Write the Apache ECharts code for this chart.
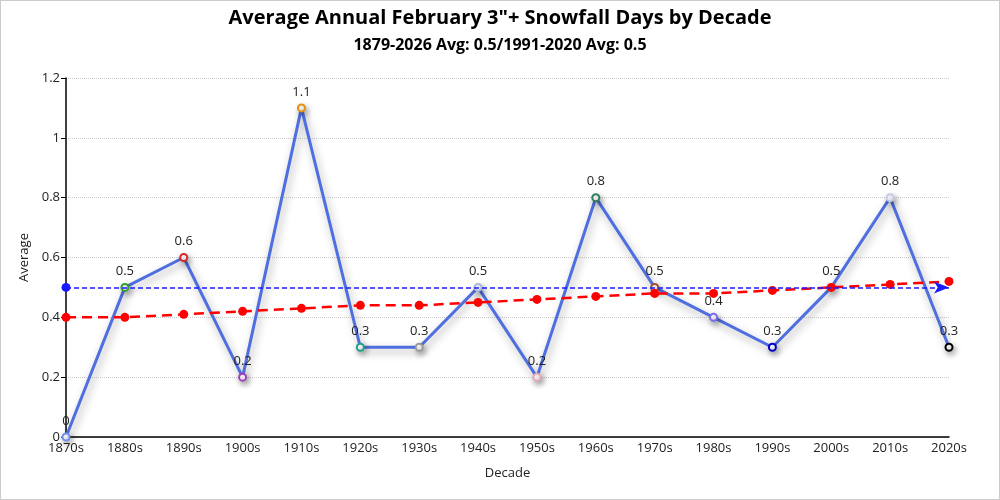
<!DOCTYPE html>
<html>
<head>
<meta charset="utf-8">
<script src="https://cdn.jsdelivr.net/npm/echarts@6/dist/echarts.min.js"></script>
<style>
html,body{margin:0;padding:0;background:#fff;}
#c{width:998px;height:498px;border:1px solid #ccc;}
</style>
</head>
<body>
<div id="c"></div>
<script>
const categories = ['1870s','1880s','1890s','1900s','1910s','1920s','1930s','1940s','1950s','1960s','1970s','1980s','1990s','2000s','2010s','2020s'];
const averages = [0, 0.5, 0.6, 0.2, 1.1, 0.3, 0.3, 0.5, 0.2, 0.8, 0.5, 0.4, 0.3, 0.5, 0.8, 0.3];
const trend = [0.40, 0.40, 0.41, 0.42, 0.43, 0.44, 0.44, 0.45, 0.46, 0.47, 0.48, 0.48, 0.49, 0.50, 0.51, 0.52];
const markerColors = ['#6f8fe8','#2ca02c','#d62728','#a040c0','#e69010','#20a08c','#999999','#a8b8d8','#e8a8b8','#2f7f5f','#a0522d','#7b68ee','#0000cd','#e0c040','#c8c8e8','#000000'];
const overallAvg = 0.5;
const yTicks = [0, 0.2, 0.4, 0.6, 0.8, 1, 1.2];

const font = '"Open Sans", "Noto Sans", sans-serif';
const chart = echarts.init(document.getElementById('c'));
chart.setOption({
  animation: false,
  textStyle: { fontFamily: font },
  title: {
    text: 'Average Annual February 3"+ Snowfall Days by Decade',
    subtext: '1879-2026 Avg: 0.5/1991-2020 Avg: 0.5',
    left: 'center', top: 2,
    itemGap: 9,
    textStyle: { fontSize: 20, fontWeight: 'bold', color: '#000', fontFamily: font },
    subtextStyle: { fontSize: 16, fontWeight: 'bold', color: '#000', fontFamily: font }
  },
  grid: { left: 65, right: 50, top: 77, bottom: 62 },
  xAxis: {
    type: 'category', data: categories, boundaryGap: false,
    name: 'Decade', nameLocation: 'middle', nameGap: 30,
    nameTextStyle: { fontSize: 13, color: '#222' },
    axisLine: { lineStyle: { color: '#000', width: 1.5 } },
    axisTick: { show: false },
    axisLabel: { fontSize: 13, color: '#222', margin: 5 }
  },
  yAxis: {
    type: 'value', min: 0, max: 1.2, interval: 0.2,
    name: 'Average', nameLocation: 'middle', nameGap: 32,
    nameTextStyle: { fontSize: 13, color: '#222' },
    axisLine: { show: true, lineStyle: { color: '#000', width: 1.5 } },
    axisTick: { show: true, length: 5, lineStyle: { color: '#000' } },
    axisLabel: { fontSize: 13, color: '#222', margin: 6, formatter: v => yTicks.includes(Math.round(v*10)/10) ? String(Math.round(v*10)/10) : '' },
    splitLine: { show: true, lineStyle: { color: '#ccc', type: 'dotted' } }
  },
  series: [
    {
      name: 'Average', type: 'line', z: 3,
      data: averages.map((v, i) => ({ value: v, itemStyle: { color: markerColors[i], borderColor: markerColors[i] } })),
      symbol: 'emptyCircle', symbolSize: 7,
      itemStyle: { borderWidth: 2, shadowColor: 'rgba(0,0,0,0.35)', shadowBlur: 6, shadowOffsetX: 2, shadowOffsetY: 3 },
      lineStyle: { color: '#4f6fe0', width: 3, shadowColor: 'rgba(0,0,0,0.35)', shadowBlur: 8, shadowOffsetX: 2, shadowOffsetY: 4 },
      label: { show: true, position: 'top', fontSize: 13, color: '#222', distance: 5 }
    },
    {
      name: 'Trend', type: 'line', data: trend, z: 4,
      symbol: 'circle', symbolSize: 9,
      itemStyle: { color: '#ff0000' },
      lineStyle: { color: '#ff0000', width: 2.5, type: [10, 6] }
    },
    {
      name: 'Overall', type: 'line', data: [], z: 5,
      itemStyle: { color: '#0000ff' },
      lineStyle: { color: '#0000ff' },
      markLine: {
        silent: true,
        symbol: ['circle', 'arrow'], symbolSize: [9, 15],
        label: { show: false },
        itemStyle: { color: '#0000ff' },
        lineStyle: { color: '#1a1aff', type: [5, 3], width: 1.6, opacity: 1 },
        data: [{ yAxis: overallAvg }]
      }
    }
  ]
});
</script>
</body>
</html>
